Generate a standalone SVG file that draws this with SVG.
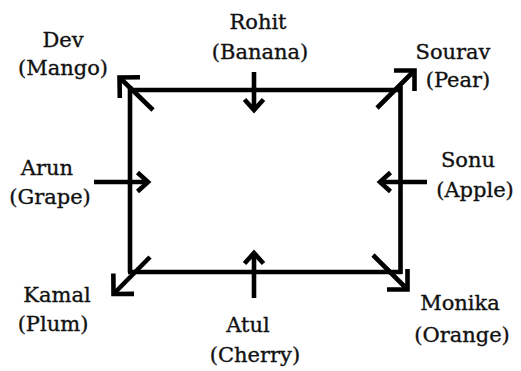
<svg xmlns="http://www.w3.org/2000/svg" width="521" height="371" viewBox="0 0 521 371">
<style>
text{font-family:"DejaVu Serif","Liberation Serif",serif;font-size:21px;fill:#111;stroke:#111;stroke-width:0.35;text-anchor:middle}
.ln{stroke:#000;stroke-width:4.6;fill:none}
.big{marker-end:url(#bighead)}
.small{marker-end:url(#smallhead)}
</style>
<defs>
<marker id="bighead" markerUnits="userSpaceOnUse" orient="auto" overflow="visible" markerWidth="1" markerHeight="1" refX="0" refY="0">
<path d="M-14.5,-14.5 L0,0 L-14.5,14.5" fill="none" stroke="#000" stroke-width="4.6" stroke-linejoin="miter"/>
</marker>
<marker id="smallhead" markerUnits="userSpaceOnUse" orient="auto" overflow="visible" markerWidth="1" markerHeight="1" refX="0" refY="0">
<path d="M-10.5,-9.5 L0,0 L-10.5,9.5" fill="none" stroke="#000" stroke-width="4.6" stroke-linejoin="miter"/>
</marker>
</defs>
<g id="table">
<path class="ln" d="M130,86 V272.5 M128,90 H401 M400.5,86 V274 M128,272 H402"/>
</g>
<g id="connectors">
<line class="ln big" x1="153" y1="110" x2="119.5" y2="77.5"/>
<line class="ln big" x1="377" y1="108" x2="414.5" y2="70.5"/>
<line class="ln big" x1="150" y1="257" x2="113.5" y2="294"/>
<line class="ln big" x1="373" y1="255" x2="407.5" y2="289.5"/>
<line class="ln small" x1="254" y1="72" x2="254" y2="110"/>
<line class="ln small" x1="254" y1="298" x2="254" y2="253"/>
<line class="ln small" x1="94" y1="182" x2="148" y2="182"/>
<line class="ln small" x1="427" y1="182" x2="380" y2="182"/>
</g>
<g id="rohit"><text x="258" y="29">Rohit</text><text x="260" y="59">(Banana)</text></g>
<g id="dev"><text x="63" y="47">Dev</text><text x="63" y="75">(Mango)</text></g>
<g id="sourav"><text x="453" y="59">Sourav</text><text x="458" y="87">(Pear)</text></g>
<g id="arun"><text x="47" y="175">Arun</text><text x="50" y="204">(Grape)</text></g>
<g id="sonu"><text x="468" y="167">Sonu</text><text x="475" y="197">(Apple)</text></g>
<g id="kamal"><text x="57" y="302">Kamal</text><text x="53" y="331">(Plum)</text></g>
<g id="atul"><text x="248" y="332">Atul</text><text x="255" y="362">(Cherry)</text></g>
<g id="monika"><text x="460" y="310">Monika</text><text x="462" y="342">(Orange)</text></g>
</svg>
